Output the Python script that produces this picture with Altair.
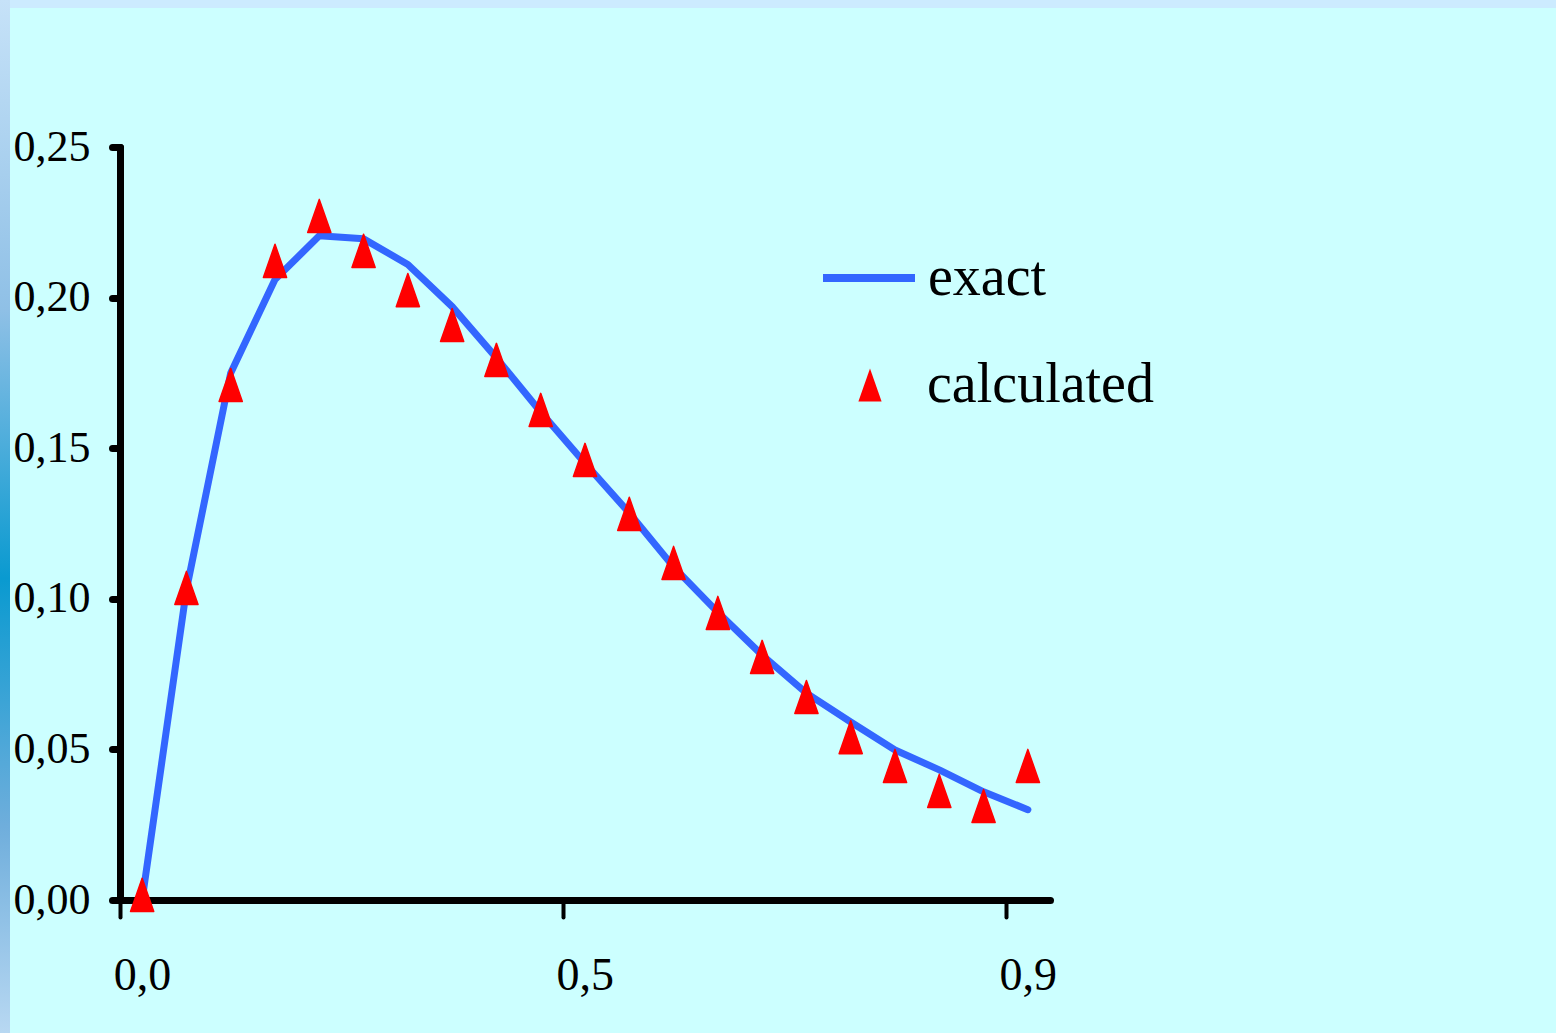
import altair as alt
import pandas as pd

# ---- data ----
x_index = list(range(21))
exact = [0.0, 0.103, 0.175, 0.206, 0.2205, 0.2195, 0.211, 0.197, 0.180, 0.162,
         0.145, 0.1285, 0.1106, 0.0955, 0.0813, 0.0687, 0.0591, 0.0498, 0.0432,
         0.0359, 0.030]
calculated = [0.0017, 0.1036, 0.171, 0.2122, 0.2271, 0.2155, 0.2025, 0.1909,
              0.1793, 0.1627, 0.1461, 0.1282, 0.1119, 0.0953, 0.0807, 0.0674,
              0.0541, 0.0445, 0.0362, 0.0312, 0.0445]
x_tick_positions = [-0.5, 9.5, 19.5]
x_tick_labels = ["0,0", "0,5", "0,9"]
y_ticks = [0.0, 0.05, 0.10, 0.15, 0.20, 0.25]

df_exact = pd.DataFrame({"i": x_index, "v": exact, "series": ["exact"] * len(x_index)})
df_calc = pd.DataFrame({"i": x_index, "v": calculated, "series": ["calculated"] * len(x_index)})

FONT = "Liberation Serif"
W, H = 930, 753
PAD = {"left": 120, "top": 147, "right": 506, "bottom": 133}

x_label_expr = " : ".join(
    [f"datum.value == {p} ? '{l}'" for p, l in zip(x_tick_positions, x_tick_labels)] + ["''"]
)

x_scale = alt.Scale(domain=[-0.5, 20.5], nice=False, zero=False)
y_scale = alt.Scale(domain=[0, 0.25], nice=False, zero=True)

x_axis = alt.Axis(
    values=x_tick_positions, labelExpr=x_label_expr, labelOffset=22, labelFlush=False,
    labelOverlap=False, title=None, grid=False,
    domainColor="black", domainWidth=7, domainCap="round",
    tickColor="black", tickWidth=4, tickSize=17, tickCap="round",
    labelFont=FONT, labelFontSize=46, labelColor="black", labelPadding=36,
)
y_axis = alt.Axis(
    values=y_ticks, labelExpr="replace(format(datum.value, '.2f'), '.', ',')",
    title=None, grid=False, labelFlush=False, labelOverlap=False,
    domainColor="black", domainWidth=7, domainCap="round",
    tickColor="black", tickWidth=7, tickSize=8, tickCap="round",
    labelFont=FONT, labelFontSize=44, labelColor="black", labelPadding=22,
    labelBaseline="middle",
)

tri_path = "M0,-1L0.7,1L-0.7,1Z"

# decorative frame strips (page background of the original slide)
one = alt.Data(values=[{"k": 1}])
top_strip = alt.Chart(one).mark_rect(color="#CCEBFF").encode(
    x=alt.value(-PAD["left"]), x2=alt.value(W + PAD["right"]),
    y=alt.value(-PAD["top"]), y2=alt.value(-PAD["top"] + 8),
)
left_strip = alt.Chart(one).mark_rect(
    fill=alt.Gradient(
        gradient="linear",
        stops=[
            alt.GradientStop(color="#C6E2F8", offset=0),
            alt.GradientStop(color="#8FC0E6", offset=0.3),
            alt.GradientStop(color="#0A9AD0", offset=0.56),
            alt.GradientStop(color="#6FAEDC", offset=0.8),
            alt.GradientStop(color="#B8D8F2", offset=1),
        ],
        x1=0, y1=0, x2=0, y2=1,
    )
).encode(
    x=alt.value(-PAD["left"]), x2=alt.value(-PAD["left"] + 10),
    y=alt.value(-PAD["top"]), y2=alt.value(H + PAD["bottom"]),
)

line = alt.Chart(df_exact).mark_line(
    strokeWidth=7, strokeCap="round", strokeJoin="round"
).encode(
    x=alt.X("i:Q", scale=x_scale, axis=x_axis),
    y=alt.Y("v:Q", scale=y_scale, axis=y_axis),
    color=alt.Color(
        "series:N",
        scale=alt.Scale(domain=["exact"], range=["#3366FF"]),
        legend=alt.Legend(
            orient="none", legendX=699, legendY=81, title=None, padding=0,
            symbolType="stroke", symbolSize=8464, symbolStrokeWidth=8,
            labelFont=FONT, labelFontSize=56, labelColor="black", labelOffset=9,
            labelLimit=0,
        ),
    ),
)

points = alt.Chart(df_calc).mark_point(
    filled=True, color="#FF0000", fill="#FF0000", stroke="#FF0000", opacity=1,
    size=1100, strokeWidth=1.5, strokeJoin="round"
).encode(
    x=alt.X("i:Q", scale=x_scale),
    y=alt.Y("v:Q", scale=y_scale),
    shape=alt.Shape(
        "series:N",
        scale=alt.Scale(domain=["calculated"], range=[tri_path]),
        legend=alt.Legend(
            orient="none", legendX=722, legendY=210, title=None, padding=0,
            symbolSize=1100, symbolFillColor="#FF0000", symbolStrokeColor="#FF0000",
            symbolStrokeWidth=1.5, symbolOpacity=1,
            labelFont=FONT, labelFontSize=56, labelColor="black", labelOffset=29,
            labelLimit=0,
        ),
    ),
)

chart = alt.layer(top_strip, left_strip, line, points).resolve_legend(
    color="independent", shape="independent"
).properties(
    width=W, height=H, padding=PAD,
    autosize=alt.AutoSizeParams(type="none"),
    background="#CCFFFF",
).configure_view(stroke=None)

chart.save("out.html", embed_options={"renderer": "svg", "actions": False})
